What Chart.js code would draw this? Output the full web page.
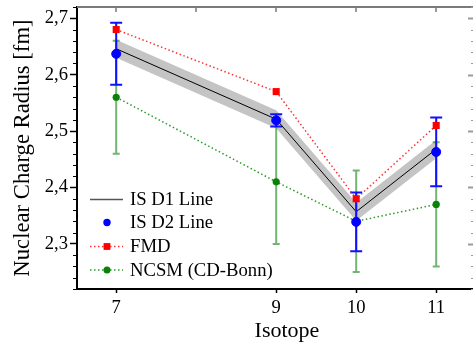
<!DOCTYPE html>
<html>
<head>
<meta charset="utf-8">
<script src="https://cdn.jsdelivr.net/npm/chart.js@4/dist/chart.umd.min.js"></script>
<style>
  html, body { margin: 0; padding: 0; background: #fff; }
  #wrap { width: 473px; height: 342px; }
</style>
</head>
<body>
<div id="wrap"><canvas id="chart" width="473" height="342"></canvas></div>
<script>
// values
const isotopes = [7, 9, 10, 11];
const isD1 = [2.646, 2.521, 2.357, 2.468];
const isD1Upper = [2.662, 2.537, 2.373, 2.484];
const isD1Lower = [2.630, 2.505, 2.341, 2.452];
const isD2 = [2.637, 2.519, 2.339, 2.463];
const isD2Err = [0.055, 0.011, 0.052, 0.061];
const fmd = [2.68, 2.57, 2.38, 2.51];
const ncsm = [2.56, 2.41, 2.34, 2.37];
const ncsmErr = [0.10, 0.11, 0.09, 0.11];

const xTickValues = [7, 9, 10, 11];
const xTopTickValues = [7, 8, 9, 10, 11];
const yTickValues = [2.3, 2.4, 2.5, 2.6, 2.7];

const FONT = '"Liberation Serif", "Times New Roman", serif';
const pts = arr => arr.map((v, i) => ({ x: isotopes[i], y: v }));

// error bars, drawn under each dataset's own markers
const errorBars = {
  id: 'errorBars',
  beforeDatasetDraw(chart, args) {
    const ds = chart.data.datasets[args.index];
    if (!ds.errors) return;
    const x = chart.scales.x, y = chart.scales.y, ctx = chart.ctx;
    ctx.save();
    ctx.strokeStyle = ds.errorColor;
    ctx.lineWidth = 2;
    ds.data.forEach((p, i) => {
      const px = x.getPixelForValue(p.x);
      const top = y.getPixelForValue(p.y + ds.errors[i]);
      const bot = y.getPixelForValue(p.y - ds.errors[i]);
      const c = ds.capHalf;
      ctx.beginPath();
      ctx.moveTo(px, top); ctx.lineTo(px, bot);
      ctx.moveTo(px - c, top); ctx.lineTo(px + c, top);
      ctx.moveTo(px - c, bot); ctx.lineTo(px + c, bot);
      ctx.stroke();
    });
    ctx.restore();
  }
};

// top frame, inner ticks, minor ticks, x title, legend
const frame = {
  id: 'frame',
  afterDraw(chart) {
    const { ctx, chartArea: a } = chart;
    const x = chart.scales.x, y = chart.scales.y;
    ctx.save();
    ctx.strokeStyle = '#7a7a7a';
    ctx.lineWidth = 2;
    ctx.beginPath();
    ctx.moveTo(a.left, a.top); ctx.lineTo(a.right + 2, a.top);
    ctx.stroke();
    ctx.lineWidth = 1.5;
    ctx.beginPath();
    xTopTickValues.forEach(v => {
      const px = Math.round(x.getPixelForValue(v));
      ctx.moveTo(px, a.top); ctx.lineTo(px, a.top + 5);
    });
    ctx.stroke();
    // minor ticks every 0.02
    for (let k = 0; k <= 25; k++) {
      const v = 2.22 + k * 0.02;
      const py = Math.round(y.getPixelForValue(v)) + 0.5;
      const major = Math.abs(v * 10 - Math.round(v * 10)) < 1e-6;
      ctx.lineWidth = 1;
      ctx.strokeStyle = '#000';
      if (!major) {
        ctx.beginPath(); ctx.moveTo(a.left - 4, py); ctx.lineTo(a.left, py); ctx.stroke();
      }
      ctx.strokeStyle = '#9a9a9a';
      ctx.lineWidth = major ? 2 : 1;
      ctx.beginPath(); ctx.moveTo(a.right - (major ? 5 : 2), py); ctx.lineTo(a.right, py); ctx.stroke();
    }
    // x title
    ctx.fillStyle = '#000';
    ctx.font = '22px ' + FONT;
    ctx.textAlign = 'center';
    ctx.textBaseline = 'alphabetic';
    ctx.fillText('Isotope', 287, 337);

    // legend
    const ds = chart.data.datasets;
    const rows = [
      { d: ds[3], y: 199.5, line: true, mark: null },
      { d: ds[1], y: 222.5, line: false, mark: 'circle', r: 3.7 },
      { d: ds[0], y: 246.5, line: true, mark: 'rect', r: 3.4 },
      { d: ds[2], y: 270, line: true, mark: 'circle', r: 3.5 }
    ];
    rows.forEach(row => {
      const d = row.d;
      if (row.line) {
        ctx.save();
        ctx.strokeStyle = row.mark ? d.borderColor : '#555';
        ctx.lineWidth = row.mark ? d.borderWidth : 1.5;
        ctx.setLineDash(d.borderDash || []);
        ctx.beginPath(); ctx.moveTo(90, row.y); ctx.lineTo(123, row.y); ctx.stroke();
        ctx.restore();
      }
      ctx.fillStyle = d.pointBackgroundColor;
      if (row.mark === 'circle') {
        ctx.beginPath(); ctx.arc(107, row.y, row.r, 0, Math.PI * 2); ctx.fill();
      } else if (row.mark === 'rect') {
        ctx.fillRect(107 - row.r, row.y - row.r, row.r * 2, row.r * 2);
      }
      ctx.fillStyle = '#000';
      ctx.font = '18.7px ' + FONT;
      ctx.textAlign = 'left';
      ctx.textBaseline = 'middle';
      ctx.fillText(d.label, 130, row.y + 1);
    });
    ctx.restore();
  }
};

new Chart(document.getElementById('chart'), {
  type: 'line',
  data: {
    datasets: [
      {
        label: 'FMD', data: pts(fmd), order: 1,
        borderColor: '#ff3030', borderWidth: 1.5, borderDash: [1.5, 2.5],
        pointStyle: 'rect', pointRadius: 5, pointBackgroundColor: '#ff0000',
        pointBorderWidth: 0, fill: false
      },
      {
        label: 'IS D2 Line', data: pts(isD2), order: 2, showLine: false,
        pointRadius: 4.5, pointBackgroundColor: '#0000ff', pointBorderColor: '#0000ff',
        pointBorderWidth: 1,
        errors: isD2Err, errorColor: '#1010ff', capHalf: 6
      },
      {
        label: 'NCSM (CD-Bonn)', data: pts(ncsm), order: 3,
        borderColor: '#2a9a2a', borderWidth: 1.5, borderDash: [1.5, 2.5],
        pointRadius: 3.6, pointBackgroundColor: '#0a820a', pointBorderWidth: 0,
        errors: ncsmErr, errorColor: 'rgba(40,140,40,0.65)', capHalf: 3.5, fill: false
      },
      {
        label: 'IS D1 Line', data: pts(isD1), order: 4,
        borderColor: '#000', borderWidth: 1, pointRadius: 0, fill: false
      },
      {
        label: 'band upper', data: pts(isD1Upper), order: 5,
        borderWidth: 0, pointRadius: 0, borderColor: 'rgba(0,0,0,0)',
        backgroundColor: '#c4c4c4', fill: '+1'
      },
      {
        label: 'band lower', data: pts(isD1Lower), order: 6,
        borderWidth: 0, pointRadius: 0, borderColor: 'rgba(0,0,0,0)', fill: false
      }
    ]
  },
  options: {
    responsive: false,
    devicePixelRatio: 1,
    animation: false,
    layout: { autoPadding: false, padding: { top: 7, left: 0, right: 0, bottom: 0 } },
    plugins: { legend: { display: false }, tooltip: { enabled: false } },
    elements: { line: { tension: 0 } },
    scales: {
      x: {
        type: 'linear', min: 6.51, max: 11.46,
        afterBuildTicks: s => { s.ticks = xTickValues.map(v => ({ value: v })); },
        afterFit: s => { s.height = 53; s.paddingLeft = 0; s.paddingRight = 0; },
        border: { color: '#000', width: 2 },
        grid: { drawOnChartArea: false, drawTicks: true, tickLength: 4, color: '#000', tickWidth: 1.5 },
        ticks: { color: '#000', font: { family: FONT, size: 18.6 }, padding: 4, maxRotation: 0,
                 callback: v => String(v) }
      },
      y: {
        type: 'linear', min: 2.22, max: 2.72,
        afterBuildTicks: s => { s.ticks = yTickValues.map(v => ({ value: v })); },
        afterFit: s => { s.width = 77; s.paddingTop = 0; s.paddingBottom = 0; },
        border: { color: '#000', width: 2 },
        grid: { drawOnChartArea: false, drawTicks: true, tickLength: 7, color: '#000', tickWidth: 1.5 },
        ticks: { color: '#000', font: { family: FONT, size: 18.6 }, padding: 2,
                 callback: v => v.toFixed(1).replace('.', ',') },
        title: { display: true, text: 'Nuclear Charge Radius [fm]', color: '#000',
                 font: { family: FONT, size: 22.7 }, padding: { top: 9, bottom: 0 } }
      }
    }
  },
  plugins: [errorBars, frame]
});
</script>
</body>
</html>
